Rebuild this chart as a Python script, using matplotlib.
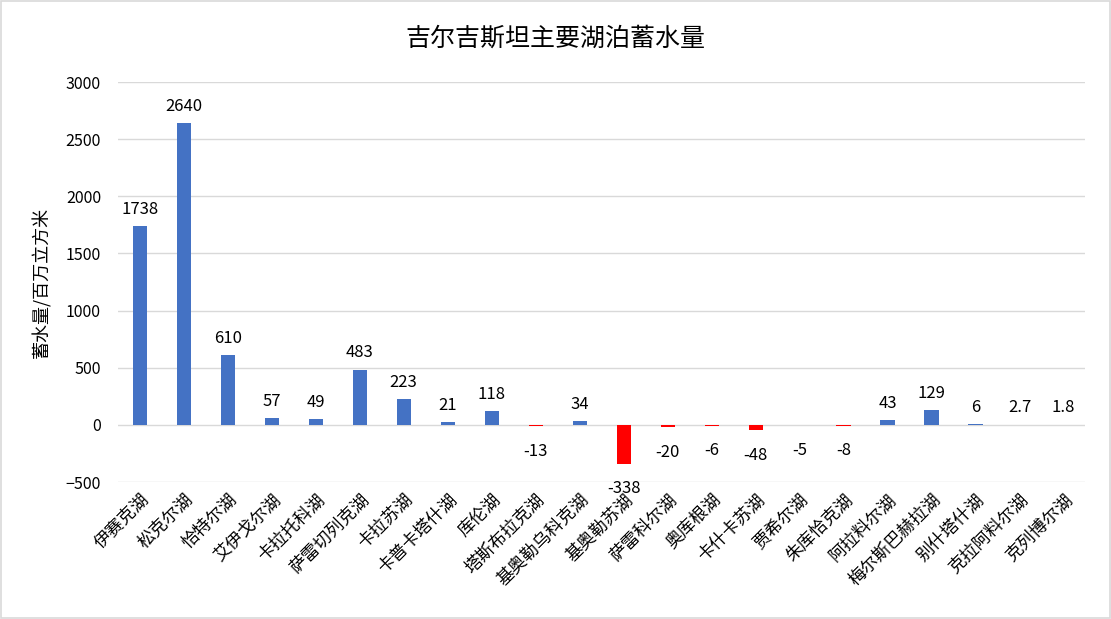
import matplotlib
matplotlib.use('Agg')
import matplotlib.pyplot as plt

plt.rcParams['font.family'] = ['Noto Sans CJK SC', 'DejaVu Sans']

# Data
lakes = ['伊赛克湖', '松克尔湖', '恰特尔湖', '艾伊戈尔湖', '卡拉托科湖', '萨雷切列克湖',
         '卡拉苏湖', '卡普卡塔什湖', '库伦湖', '塔斯布拉克湖', '基奥勒乌科克湖', '基奥勒苏湖',
         '萨雷科尔湖', '奥库根湖', '卡什卡苏湖', '贾希尔湖', '朱库恰克湖', '阿拉料尔湖',
         '梅尔斯巴赫拉湖', '别什塔什湖', '克拉阿料尔湖', '克列博尔湖']
volumes = [1738, 2640, 610, 57, 49, 483, 223, 21, 118, -13, 34, -338,
           -20, -6, -48, -5, -8, 43, 129, 6, 2.7, 1.8]
value_labels = ['1738', '2640', '610', '57', '49', '483', '223', '21', '118', '-13', '34', '-338',
                '-20', '-6', '-48', '-5', '-8', '43', '129', '6', '2.7', '1.8']

fig = plt.figure(figsize=(11.11, 6.19), dpi=100)
fig.patches.append(plt.Rectangle((0.001, 0.001), 0.998, 0.997, transform=fig.transFigure,
                                 fill=False, edgecolor='#D9D9D9', linewidth=1.2))
ax = fig.add_axes([0.106, 0.2213, 0.871, 0.6462])

x = list(range(len(lakes)))
colors = ['#4472C4' if v >= 0 else '#FF0000' for v in volumes]
ax.bar(x, volumes, width=0.32, color=colors, zorder=3)

for xi, v, lab in zip(x, volumes, value_labels):
    if v >= 0:
        ax.annotate(lab, (xi, v), xytext=(0, 6), textcoords='offset points',
                    ha='center', va='bottom', fontsize=12, color='#000000')
    else:
        ax.annotate(lab, (xi, v), xytext=(0, -12), textcoords='offset points',
                    ha='center', va='top', fontsize=12, color='#000000')

ax.set_ylim(-500, 3000)
ax.set_yticks(range(-500, 3001, 500))
ax.set_xlim(-0.5, len(lakes) - 0.5)
ax.set_xticks(x)
ax.set_xticklabels(lakes, rotation=45, ha='right', rotation_mode='anchor', fontsize=12.5)
ax.tick_params(axis='y', length=0, labelsize=11.5, colors='#000000', pad=12)
ax.tick_params(axis='x', length=0, colors='#000000', pad=6)
ax.grid(axis='y', color='#D9D9D9', linewidth=1, zorder=0)
for s in ax.spines.values():
    s.set_visible(False)

ax.set_ylabel('蓄水量/百万立方米', fontsize=13, labelpad=10)
fig.text(0.5, 0.938, '吉尔吉斯坦主要湖泊蓄水量', ha='center', va='center', fontsize=18)

fig.savefig('out.png', dpi=100)
